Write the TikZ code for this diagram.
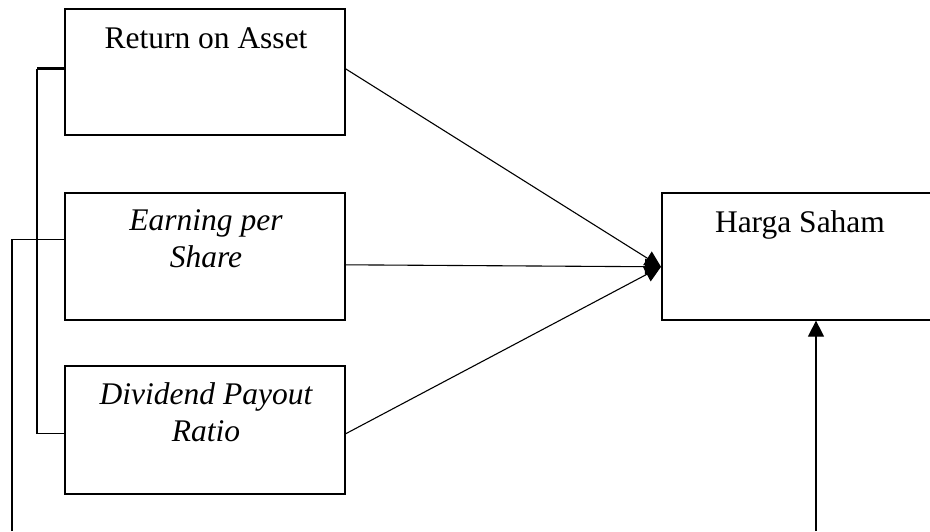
\documentclass[tikz,border=0pt]{standalone}
\usepackage{fontspec}
\setmainfont{Liberation Serif}
\usetikzlibrary{arrows.meta}
\begin{document}
\begin{tikzpicture}[x=1pt,y=-1pt,
  box/.style={draw,line width=1.6pt,inner sep=0pt,anchor=north west},
  txt/.style={anchor=base,inner sep=0pt,font=\fontsize{31.5}{37}\selectfont},
  wire/.style={line width=1.1pt},
  arr/.style={wire,-{Triangle[length=16pt,width=16pt]}}]
\useasboundingbox (0,0) rectangle (930,531);
\clip (0,0) rectangle (930,531);
% variable boxes
\node[box,minimum width=280pt,minimum height=126pt] (roa) at (64,8) {};
\node[box,minimum width=280pt,minimum height=127pt] (eps) at (64,192) {};
\node[box,minimum width=280pt,minimum height=128pt] (dpr) at (64,365) {};
\node[box,minimum width=300pt,minimum height=127pt] (hs) at (661,192) {};
% labels
\node[txt] (troa) at (206,48) {Return on Asset};
\node[txt] (teps1) at (206,230) {\itshape Earning per};
\node[txt] (teps2) at (206,267) {\itshape Share};
\node[txt] (tdpr1) at (206,404) {\itshape Dividend Payout};
\node[txt] (tdpr2) at (206,441) {\itshape Ratio};
\node[txt] (ths) at (800,232) {Harga Saham};
% connection points
\coordinate (hit) at ([yshift=-10.5pt]hs.west);
\coordinate (l1) at ([yshift=3pt]roa.west);
\coordinate (l2) at ([yshift=16.5pt]eps.west);
\coordinate (l3) at ([yshift=-4pt]dpr.west);
\coordinate (bx) at (37,0);
\coordinate (cx) at (12,0);
\coordinate (cbot) at (12,531);
\coordinate (bot) at (816,531);
% arrows into Harga Saham
\draw[arr] ([yshift=3pt]roa.east) -- (hit);
\draw[arr] ([yshift=-8.5pt]eps.east) -- (hit);
\draw[arr] ([yshift=-4pt]dpr.east) -- (hit);
\draw[arr] (bot) -- (bot |- hs.south);
% bracket on the left
\draw[line width=3pt] (bx |- l1) -- (l1);
\draw[wire] (bx |- l1) -- (bx |- l3) -- (l3);
\draw[wire] (cbot) -- (cx |- l2) -- (l2);
\end{tikzpicture}
\end{document}
